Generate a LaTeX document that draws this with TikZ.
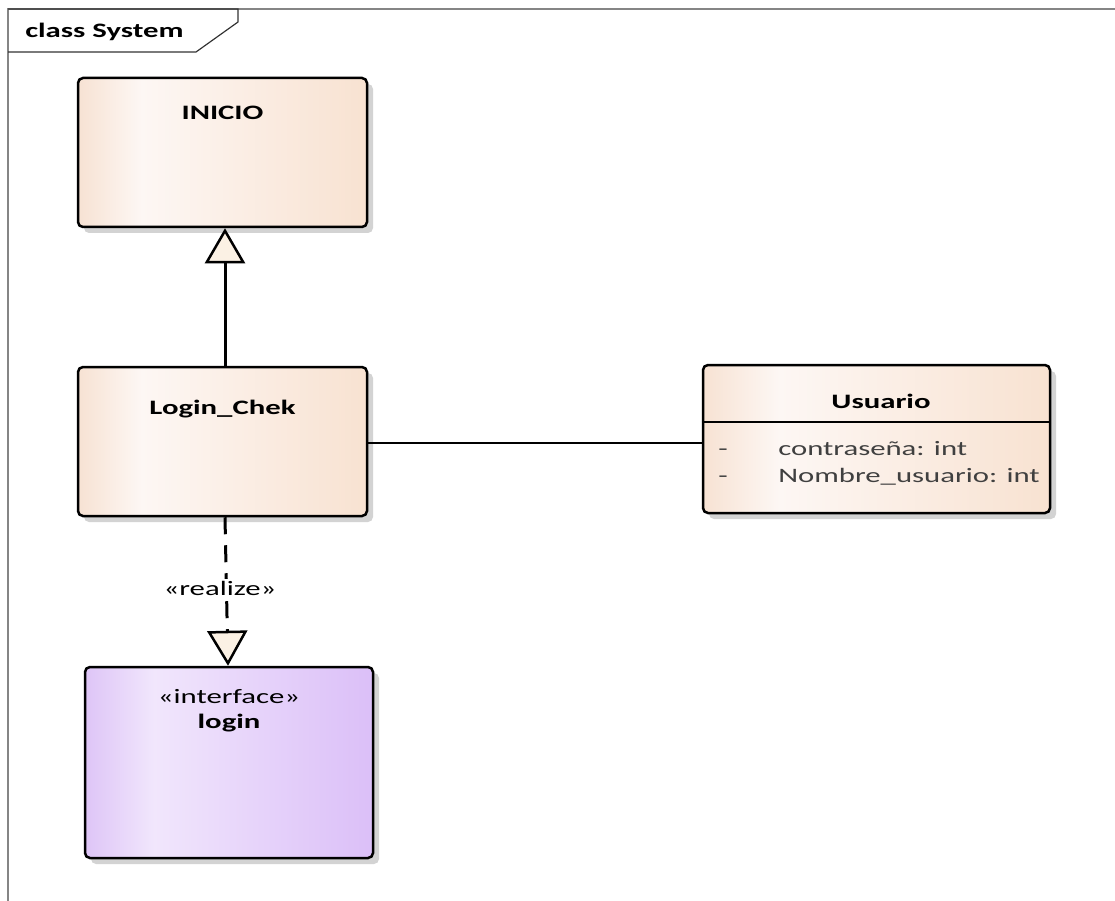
\documentclass[tikz,border=0pt]{standalone}
\usepackage{fontspec}
\setmainfont{Carlito}
\usetikzlibrary{arrows.meta,shadows}

\definecolor{peachL}{HTML}{F7E2D3}
\definecolor{peachM}{HTML}{FDF7F4}
\definecolor{peachR}{HTML}{F8E2D1}
\definecolor{lavL}{HTML}{DEC5F7}
\definecolor{lavM}{HTML}{F1E6FC}
\definecolor{lavR}{HTML}{DBBFF8}
\definecolor{tipfill}{HTML}{FBF1E4}
\definecolor{framegray}{HTML}{858585}
\definecolor{shadowgray}{HTML}{D3D3D3}
\definecolor{attrgray}{HTML}{404040}

\pgfdeclarehorizontalshading{peachshade}{100bp}{color(0bp)=(peachL); color(25bp)=(peachL); color(36bp)=(peachM); color(75bp)=(peachR); color(100bp)=(peachR)}
\pgfdeclarehorizontalshading{lavshade}{100bp}{color(0bp)=(lavL); color(25bp)=(lavL); color(37bp)=(lavM); color(75bp)=(lavR); color(100bp)=(lavR)}

\tikzset{
  umlbox/.style={rectangle, draw=black, line width=2.5pt, rounded corners=5pt, inner sep=0pt,
    drop shadow={shadow xshift=6pt, shadow yshift=-6pt, fill=shadowgray, opacity=1}},
  classbox/.style={umlbox, shading=peachshade},
  ifacebox/.style={umlbox, shading=lavshade},
  txt/.style={inner sep=0pt, anchor=base, xscale=1.5, font=\fontsize{20.5}{24}\selectfont},
  boldtxt/.style={txt, font=\bfseries\fontsize{20.5}{24}\selectfont},
  attr/.style={txt, anchor=base west, text=attrgray},
  hollowtip/.style={-{Triangle[width=40pt, length=35pt, fill=tipfill, line width=2.5pt]}},
  link/.style={line width=3pt, black},
}

\begin{document}
\begin{tikzpicture}[x=1pt, y=-1pt]
  \useasboundingbox (0,0) rectangle (1115,901);

  % diagram frame and its name tab
  \draw[framegray, line width=2pt] (7,9) -- (1115,9);
  \draw[framegray, line width=2pt] (8,9) -- (8,901);
  \draw[black!80, line width=1.2pt] (8,9) -- (238,9) -- (238,22) -- (196,52) -- (8,52);
  \node[boldtxt, anchor=base west] (frametitle) at (25,38) {class System};

  % classes
  \node[classbox, minimum width=289pt, minimum height=149pt] (inicio) at (222.5,152.5) {};
  \node[boldtxt] (inicioname) at (222.5,120) {INICIO};

  \node[classbox, minimum width=289pt, minimum height=149pt] (loginchek) at (222.5,441.5) {};
  \node[boldtxt] (logincheckname) at (222.5,414) {Login\_Chek};

  \node[classbox, minimum width=347pt, minimum height=148pt] (usuario) at (876.5,439) {};
  \draw[line width=2pt] ([yshift=-58pt]usuario.north west) coordinate (divl)
        -- ([yshift=-58pt]usuario.north east) coordinate (divr);
  \node[boldtxt] (usuarioname) at (881,408) {Usuario};
  \node[attr] (dash1) at (718,455) {-};
  \node[attr] (attr1) at (778,455) {contraseña: int};
  \node[attr] (dash2) at (718,482) {-};
  \node[attr] (attr2) at (778,482) {Nombre\_usuario: int};

  % interface
  \node[ifacebox, minimum width=288pt, minimum height=191pt] (login) at (229,762.5) {};
  \node[txt] (stereo) at (229,703) {«interface»};
  \node[boldtxt] (loginname) at (229,728) {login};

  % generalization
  \draw[link, hollowtip] ([xshift=2.5pt]loginchek.north) -- ([xshift=2.5pt]inicio.south);

  % association
  \draw[line width=2pt] ([yshift=-1.5pt]loginchek.east) -- ([yshift=-1.5pt]loginchek.east -| usuario.west);

  % realization
  \draw[link, hollowtip, dash pattern=on 17pt off 11pt]
    ([xshift=2.5pt]loginchek.south) -- ([xshift=-1pt]login.north);
  \node[txt, fill=white, inner sep=2pt] (realize) at (220,595) {«realize»};
\end{tikzpicture}
\end{document}
